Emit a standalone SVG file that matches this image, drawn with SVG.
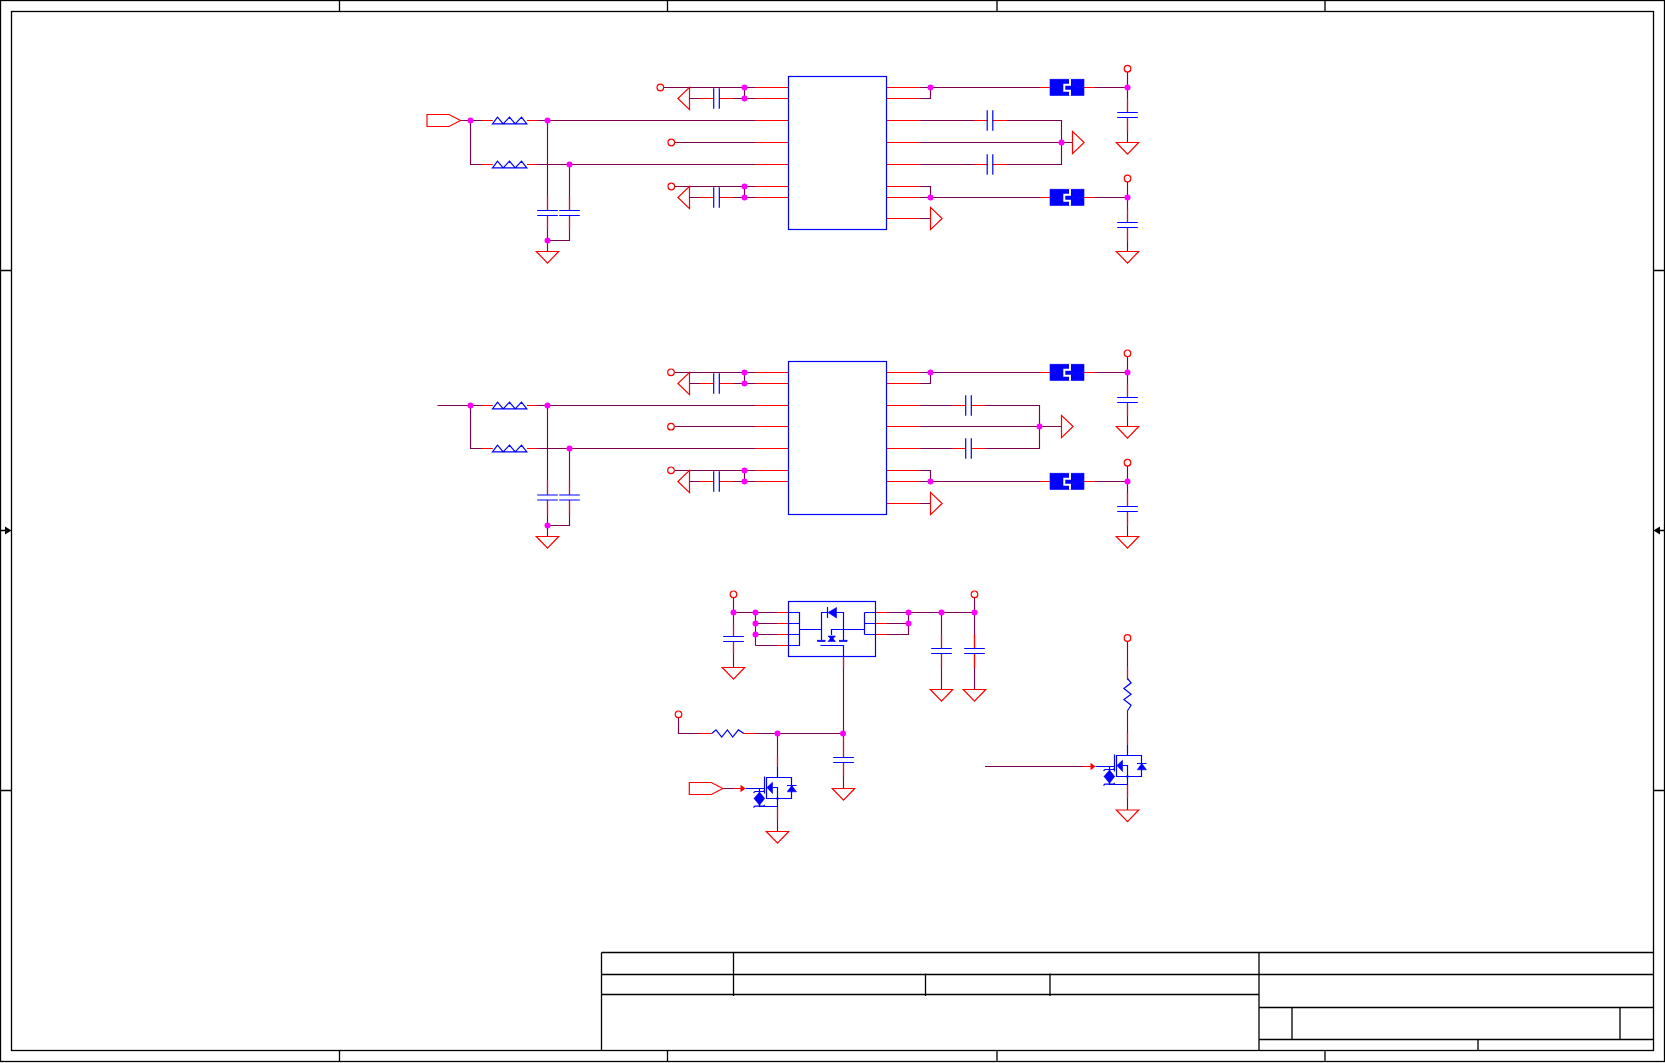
<svg xmlns="http://www.w3.org/2000/svg" width="1665" height="1063" viewBox="0 0 1665 1063">
<style>
.k{fill:none;stroke:#000;stroke-width:1.3}
.kf{fill:#000;stroke:none}
.w{fill:none;stroke:#7c0050;stroke-width:1.15}
.r{fill:none;stroke:#f00;stroke-width:1.15}
.rt{fill:#fff;stroke:#f00;stroke-width:1.2}
.rn{fill:none;stroke:#f00;stroke-width:1.2}
.rf{fill:#f00;stroke:none}
.b{fill:none;stroke:#00f;stroke-width:1.2}
.bf{fill:#00f;stroke:#00f;stroke-width:.6}
.j{fill:#f0f;stroke:none}
.oc{fill:#fff;stroke:#f00;stroke-width:1.2}
</style>
<defs>
<g id="gnd"><polygon class="rt" points="-11.2,0 11.2,0 0,11.6"/></g>
<g id="capH"><path class="b" d="M-10.3 -2.5H10.3M-10.3 2.5H10.3"/></g>
<g id="capV"><path class="b" d="M-2.8 -10.3V10.3M2.8 -10.3V10.3"/></g>
<g id="ind"><path class="b" d="M0 3.3L5 -3.3L10.7 3.3L17 -3.3L22.7 3.3L29 -3.3L34.3 3.3Z"/></g>
<g id="res"><path class="b" d="M0 0L4.3 -3.6L10 3.6L15.7 -3.6L21 3.6L26.7 -3.6L32.3 0"/></g>
<g id="ferrite"><rect class="bf" x="0" y="-8.3" width="34" height="16.3"/><path d="M20 -8.5V-2.8H14.3V3.2H20V8.2" fill="none" stroke="#fff" stroke-width="2"/></g>
<g id="pc"><circle class="oc" r="3.3"/></g>
<g id="port"><polygon class="rn" points="0,-6 22,-6 33.5,0 22,6 0,6"/></g>
<g id="nmos">
<path class="b" d="M0 -11V0M-11 0H14V21H-11ZM-13 -1V16M-5 10H0V29H-18V11M-32 11H-13M9.5 8H19"/>
<polygon class="bf" points="-10.6,10 -5,4.7 -5,16"/>
<polygon class="bf" points="9.7,14.3 19,14.3 14.3,8"/>
<circle class="bf" cy="21" r="1"/>
<polygon class="bf" points="-23.5,21 -12.8,21 -18,14.5"/>
<polygon class="bf" points="-23.5,21 -12.8,21 -18,27.7"/>
<path class="b" d="M-24 15.3L-22.5 14H-14L-12.8 12.6M-24 30L-22.7 28.7H-14L-12.8 27.4"/>
</g>
</defs>

<g id="frame">
<rect class="k" x="0.5" y="0.5" width="1664" height="1061"/>
<rect class="k" x="11.5" y="11.5" width="1642" height="1039"/>
<path class="k" d="M339.5 0.5V11.5M667.5 0.5V11.5M997 0.5V11.5M1325 0.5V11.5M339.5 1050.5V1061.5M667.5 1050.5V1061.5M997 1050.5V1061.5M1325 1050.5V1061.5M0.5 270.5H11.5M0.5 790.5H11.5M1653.5 270.5H1664.5M1653.5 790.5H1664.5M0.5 530.5H6M1659 530.5H1664.5"/>
<polygon class="kf" points="5,526.5 11.5,530.5 5,534.5"/>
<polygon class="kf" points="1660,526.5 1653.5,530.5 1660,534.5"/>
</g>

<g id="title-block">
<path class="k" d="M601.5 952.5H1653.5M601.5 974.5H1653.5M601.5 994.5H1259M1259 1007.5H1653.5M1259 1039.5H1653.5M601.5 952.5V1050.5M733.5 952.5V996M925.5 973.5V996M1050 973.5V996M1259 952.5V1050.5M1292 1007.5V1039.5M1620 1007.5V1039.5M1478 1039.5V1050.5"/>
</g>

<g id="connectors">
<g id="nets-top">
<path class="w" d="M460.5 120.5H492.5M527 120.5H788.5M470.5 120.5V164.5H492.5M527 164.5H788.5M547.5 120.5V210.5M569.5 164.5V210.5M547.5 215.5V251.5M569.5 215.5V240.5H547.5"/>
<path class="w" d="M663.5 87.5H788.5M689.5 98.5H713.5M719.5 98.5H788.5M744.5 87.5V98.5M674.5 142.5H788.5M674.5 186.5H788.5M689.5 197.5H713.5M719.5 197.5H788.5M744.5 186.5V197.5"/>
<path class="w" d="M886.5 87.5H1050M886.5 98.5H930.5V87.5M1084 87.5H1127.5M1127.5 72V112.5M1127.5 118V142.5"/>
<path class="w" d="M886.5 120.5H987.5M992.5 120.5H1061.5V164.5H992.5M886.5 164.5H987.5M886.5 142.5H1072.5"/>
<path class="w" d="M886.5 186.5H930.5V197.5M886.5 197.5H1050M1084 197.5H1127.5M1127.5 182V222.5M1127.5 227.5V251.5M886.5 218.5H930.5"/>
<path class="r" d="M481.5 120.5H492.5M481.5 164.5H492.5M527 120.5H537.5M527 164.5H537.5M547.5 196.5V210.5M569.5 196.5V210.5M547.5 215.5V230M569.5 215.5V230"/>
<path class="r" d="M755 87.5H788.5M755 98.5H788.5M755 120.5H788.5M755 142.5H788.5M755 164.5H788.5M755 186.5H788.5M755 197.5H788.5M700 98.5H713.5M719.5 98.5H733M700 197.5H713.5M719.5 197.5H733"/>
<path class="r" d="M886.5 87.5H920M886.5 98.5H920M886.5 120.5H920M886.5 142.5H920M886.5 164.5H920M886.5 186.5H920M886.5 197.5H920M886.5 218.5H920M974 120.5H987.5M992.5 120.5H1007M974 164.5H987.5M992.5 164.5H1007M1040 87.5H1050M1084 87.5H1095M1040 197.5H1050M1084 197.5H1095M1127.5 98.5V112.5M1127.5 118V131.5M1127.5 209V222.5M1127.5 227.5V241"/>
</g>
<g id="nets-middle">
<path class="w" d="M437.5 405.5H492.5M527 405.5H788.5M470.5 405.5V448.5H492.5M527 448.5H788.5M547.5 405.5V495M569.5 448.5V495M547.5 500V536.5M569.5 500V525.5H547.5"/>
<path class="w" d="M674.5 372.5H788.5M689.5 383.5H713.5M719.5 383.5H788.5M744.5 372.5V383.5M674.5 426.5H788.5M674.5 470.5H788.5M689.5 481.5H713.5M719.5 481.5H788.5M744.5 470.5V481.5"/>
<path class="w" d="M886.5 372.5H1050M886.5 383.5H930.5V372.5M1084 372.5H1127.5M1127.5 357V397.5M1127.5 402.5V426.5"/>
<path class="w" d="M886.5 405.5H965.5M971.5 405.5H1039.5V448.5H971.5M886.5 448.5H965.5M886.5 426.5H1061.5"/>
<path class="w" d="M886.5 470.5H930.5V481.5M886.5 481.5H1050M1084 481.5H1127.5M1127.5 466V506.5M1127.5 512V536.5M886.5 503.5H930.5"/>
<path class="r" d="M481.5 405.5H492.5M481.5 448.5H492.5M527 405.5H537.5M527 448.5H537.5M547.5 481V495M569.5 481V495M547.5 500V514.5M569.5 500V514.5"/>
<path class="r" d="M755 372.5H788.5M755 383.5H788.5M755 405.5H788.5M755 426.5H788.5M755 448.5H788.5M755 470.5H788.5M755 481.5H788.5M700 383.5H713.5M719.5 383.5H733M700 481.5H713.5M719.5 481.5H733"/>
<path class="r" d="M886.5 372.5H920M886.5 383.5H920M886.5 405.5H920M886.5 426.5H920M886.5 448.5H920M886.5 470.5H920M886.5 481.5H920M886.5 503.5H920M952.5 405.5H965.5M971.5 405.5H985.5M952.5 448.5H965.5M971.5 448.5H985.5M1040 372.5H1050M1084 372.5H1095M1040 481.5H1050M1084 481.5H1095M1127.5 383.5V397.5M1127.5 402.5V416M1127.5 493V506.5M1127.5 512V526"/>
</g>
<g id="nets-bottom">
<path class="w" d="M733.5 598V636.5M733.5 642V667.5M733.5 612.5H788.5M755.5 612.5V645.5M755.5 623.5H788.5M755.5 634.5H788.5M755.5 645.5H788.5"/>
<path class="w" d="M875.5 612.5H974.5M875.5 623.5H908.5M875.5 634.5H908.5V612.5M941.5 612.5V648.5M941.5 653.5V689.5M974.5 598V648.5M974.5 653.5V689.5"/>
<path class="w" d="M843.5 656.5V757.5M843.5 762.5V788.5M678.5 718V733.5H711.5M744 733.5H843.5M777.5 733.5V766.5M777.5 806.5V831.5M722.5 788.5H741"/>
<path class="w" d="M1127.5 641.5V679.5M1127.5 710.5V744.5M985 766.5H1091M1127.5 784.5V810"/>
<path class="r" d="M777 612.5H788.5M777 623.5H788.5M777 634.5H788.5M777 645.5H788.5M875.5 612.5H887M875.5 623.5H887M875.5 634.5H887M733.5 625V636.5M733.5 642V654M941.5 634V648.5M941.5 653.5V668M974.5 634V648.5M974.5 653.5V668M843.5 656.5V667.5M843.5 737V757.5M843.5 762.5V777M700 733.5H711.5M744 733.5H755.5M777.5 755V766.5M777.5 806.5V820M733 788.5H741"/>
<path class="r" d="M1127.5 666.7V679.5M1127.5 733V744.5M1083 766.5H1091M1127.5 784.5V798"/>
<polygon class="rf" points="740.5,784.7 745.5,788.5 740.5,792.3"/>
<polygon class="rf" points="1090.5,762.7 1095.5,766.5 1090.5,770.3"/>
</g>
</g>

<g id="u1"><rect class="b" x="788.5" y="76.5" width="98" height="153"/></g>
<g id="u2"><rect class="b" x="788.5" y="361.5" width="98" height="153"/></g>
<g id="u3">
<rect class="b" x="788.5" y="601.5" width="87" height="55"/>
<path class="b" d="M788.5 612.5H799.5V645.5H788.5M788.5 623.5H799.5M788.5 634.5H799.5M799.5 629.5H821.5M821.5 640V612.5H827.5M834 612.5H843.5V640M831.5 635V629.5H864.5M864.5 612.5V634.5M875.5 612.5H864.5M875.5 623.5H864.5M875.5 634.5H864.5M820.5 645.5H843.5V656.5M827.5 607V618"/>
<polygon class="bf" points="836.5,607.5 836.5,618 828,612.5"/>
<rect class="bf" x="817.3" y="640.2" width="7.8" height="1.4"/>
<rect class="bf" x="839.3" y="640.2" width="7.8" height="1.4"/>
<polygon class="bf" points="828,636 835.5,636 831.7,640"/>
<polygon class="bf" points="828,641.5 835.5,641.5 831.7,637"/>
</g>

<g id="port-top"><use href="#port" transform="translate(427,120.5)"/></g>
<g id="port-gate"><use href="#port" transform="translate(689.3,788.5)"/></g>

<g id="l1"><use href="#ind" transform="translate(492.5,120.5)"/></g>
<g id="l2"><use href="#ind" transform="translate(492.5,164.5)"/></g>
<g id="l3"><use href="#ind" transform="translate(492.5,405.5)"/></g>
<g id="l4"><use href="#ind" transform="translate(492.5,448.5)"/></g>

<g id="c-top">
<use href="#capH" transform="translate(547.5,213)"/><use href="#capH" transform="translate(569.5,213)"/>
<use href="#capV" transform="translate(716.5,98.5)"/><use href="#capV" transform="translate(716.5,197.5)"/>
<use href="#capV" transform="translate(990,120.5)"/><use href="#capV" transform="translate(990,164.5)"/>
<use href="#capH" transform="translate(1127.5,115)"/><use href="#capH" transform="translate(1127.5,225)"/>
</g>
<g id="c-middle">
<use href="#capH" transform="translate(547.5,497.5)"/><use href="#capH" transform="translate(569.5,497.5)"/>
<use href="#capV" transform="translate(716.5,383.5)"/><use href="#capV" transform="translate(716.5,481.5)"/>
<use href="#capV" transform="translate(968.5,405.5)"/><use href="#capV" transform="translate(968.5,448.5)"/>
<use href="#capH" transform="translate(1127.5,400)"/><use href="#capH" transform="translate(1127.5,509)"/>
</g>
<g id="c-bottom">
<use href="#capH" transform="translate(733.5,639)"/><use href="#capH" transform="translate(941.5,651)"/>
<use href="#capH" transform="translate(974.5,651)"/><use href="#capH" transform="translate(843.5,760)"/>
</g>

<g id="fb1"><use href="#ferrite" transform="translate(1050,87.5)"/></g>
<g id="fb2"><use href="#ferrite" transform="translate(1050,197.5)"/></g>
<g id="fb3"><use href="#ferrite" transform="translate(1050,372.5)"/></g>
<g id="fb4"><use href="#ferrite" transform="translate(1050,481.5)"/></g>

<g id="r1"><use href="#res" transform="translate(711.7,733.5)"/></g>
<g id="r2"><use href="#res" transform="translate(1127.5,678.5) rotate(90)"/></g>

<g id="q1"><use href="#nmos" transform="translate(777.5,777.5)"/></g>
<g id="q2"><use href="#nmos" transform="translate(1127.5,755.5)"/></g>

<g id="grounds">
<use href="#gnd" transform="translate(547.5,251.5)"/>
<use href="#gnd" transform="translate(1127.5,142.5)"/>
<use href="#gnd" transform="translate(1127.5,251.5)"/>
<use href="#gnd" transform="translate(689.5,98.5) rotate(90)"/>
<use href="#gnd" transform="translate(689.5,197.5) rotate(90)"/>
<use href="#gnd" transform="translate(1072.5,142.5) rotate(-90)"/>
<use href="#gnd" transform="translate(930.5,218.5) rotate(-90)"/>
<use href="#gnd" transform="translate(547.5,536.5)"/>
<use href="#gnd" transform="translate(1127.5,426.5)"/>
<use href="#gnd" transform="translate(1127.5,536.5)"/>
<use href="#gnd" transform="translate(689.5,383.5) rotate(90)"/>
<use href="#gnd" transform="translate(689.5,481.5) rotate(90)"/>
<use href="#gnd" transform="translate(1061.5,426.5) rotate(-90)"/>
<use href="#gnd" transform="translate(930.5,503.5) rotate(-90)"/>
<use href="#gnd" transform="translate(733.5,667.5)"/>
<use href="#gnd" transform="translate(941.5,689.5)"/>
<use href="#gnd" transform="translate(974.5,689.5)"/>
<use href="#gnd" transform="translate(843.5,788.5)"/>
<use href="#gnd" transform="translate(777.5,831.5)"/>
<use href="#gnd" transform="translate(1127.5,810)"/>
</g>

<g id="power-pins">
<use href="#pc" transform="translate(660.3,87.5)"/>
<use href="#pc" transform="translate(671.3,142.5)"/>
<use href="#pc" transform="translate(671.3,186.5)"/>
<use href="#pc" transform="translate(1127.5,68.7)"/>
<use href="#pc" transform="translate(1127.5,178.5)"/>
<use href="#pc" transform="translate(671,372.3)"/>
<use href="#pc" transform="translate(671,426.7)"/>
<use href="#pc" transform="translate(671,470.3)"/>
<use href="#pc" transform="translate(1127.5,353.3)"/>
<use href="#pc" transform="translate(1127.5,462.7)"/>
<use href="#pc" transform="translate(733.5,594.3)"/>
<use href="#pc" transform="translate(974.5,594.3)"/>
<use href="#pc" transform="translate(678.5,714.3)"/>
<use href="#pc" transform="translate(1127.5,638)"/>
</g>

<g id="junctions">
<circle class="j" cx="470.5" cy="120.5" r="3"/><circle class="j" cx="547.5" cy="120.5" r="3"/><circle class="j" cx="569.5" cy="164.5" r="3"/><circle class="j" cx="547.5" cy="240.5" r="3"/>
<circle class="j" cx="744.5" cy="87.5" r="3"/><circle class="j" cx="744.5" cy="98.5" r="3"/><circle class="j" cx="744.5" cy="186.5" r="3"/><circle class="j" cx="744.5" cy="197.5" r="3"/>
<circle class="j" cx="930.5" cy="87.5" r="3"/><circle class="j" cx="930.5" cy="197.5" r="3"/><circle class="j" cx="1061.5" cy="142.5" r="3"/><circle class="j" cx="1127.5" cy="87.5" r="3"/><circle class="j" cx="1127.5" cy="197.5" r="3"/>
<circle class="j" cx="470.5" cy="405.5" r="3"/><circle class="j" cx="547.5" cy="405.5" r="3"/><circle class="j" cx="569.5" cy="448.5" r="3"/><circle class="j" cx="547.5" cy="525.5" r="3"/>
<circle class="j" cx="744.5" cy="372.5" r="3"/><circle class="j" cx="744.5" cy="383.5" r="3"/><circle class="j" cx="744.5" cy="470.5" r="3"/><circle class="j" cx="744.5" cy="481.5" r="3"/>
<circle class="j" cx="930.5" cy="372.5" r="3"/><circle class="j" cx="930.5" cy="481.5" r="3"/><circle class="j" cx="1039.5" cy="426.5" r="3"/><circle class="j" cx="1127.5" cy="372.5" r="3"/><circle class="j" cx="1127.5" cy="481.5" r="3"/>
<circle class="j" cx="733.5" cy="612.5" r="3"/><circle class="j" cx="755.5" cy="612.5" r="3"/><circle class="j" cx="755.5" cy="623.5" r="3"/><circle class="j" cx="755.5" cy="634.5" r="3"/>
<circle class="j" cx="908.5" cy="612.5" r="3"/><circle class="j" cx="908.5" cy="623.5" r="3"/><circle class="j" cx="941.5" cy="612.5" r="3"/><circle class="j" cx="974.5" cy="612.5" r="3"/>
<circle class="j" cx="777.5" cy="733.5" r="3"/><circle class="j" cx="843" cy="733.5" r="3"/>
</g>
</svg>
